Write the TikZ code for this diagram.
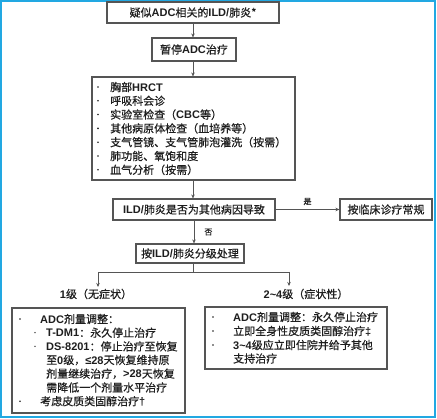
\documentclass[tikz,border=0pt]{standalone}
\usepackage{fontspec}
\setmainfont{Noto Sans CJK SC}[FakeBold=0.5]
\newfontfamily\latfont{Liberation Sans}
\newcommand\lb[1]{{\latfont\bfseries #1}}
\usetikzlibrary{arrows.meta}
\definecolor{framec}{HTML}{22A8E2}
\definecolor{boxline}{HTML}{555555}
\definecolor{txt}{HTML}{1E1E1E}
\begin{document}
\begin{tikzpicture}[x=1pt,y=-1pt,
  box/.style={draw=boxline,line width=1.1pt,inner sep=0pt,fill=white,text=txt,font=\fontsize{11}{13}\selectfont},
  txtn/.style={inner sep=0pt,anchor=west,text=txt,font=\fontsize{11}{13}\selectfont},
  lbl/.style={inner sep=0pt,text=txt,font=\fontsize{11}{13}\selectfont},
  small/.style={inner sep=0pt,text=txt,font=\fontsize{8}{9}\selectfont},
  conn/.style={draw=boxline,line width=0.9pt},
  arr/.style={conn,-{Stealth[length=4pt,width=3.5pt]}},
  dotc/.style={fill=txt}]
\useasboundingbox (0,0) rectangle (437,419);
\fill[white] (0,0) rectangle (437,419);
\draw[framec,line width=2pt] (1,1) rectangle (435,417);

% main boxes
\node[box,minimum width=172pt,minimum height=21pt] (top) at (193,12.5) {疑似\lb{ADC}相关的\lb{ILD/}肺炎*};
\node[box,minimum width=84pt,minimum height=23pt] (pause) at (194,49.5) {暂停\lb{ADC}治疗};
\node[box,minimum width=203pt,minimum height=103pt] (tests) at (193.5,128.5) {};
\node[box,minimum width=162pt,minimum height=21pt] (q) at (194,209.5) {\lb{ILD/}肺炎是否为其他病因导致};
\node[box,minimum width=92pt,minimum height=21pt] (clinic) at (386,209.5) {按临床诊疗常规};
\node[box,minimum width=108pt,minimum height=19pt] (grade) at (190,253.5) {按\lb{ILD/}肺炎分级处理};
\node[box,minimum width=173pt,minimum height=105pt] (g1box) at (98.5,360.5) {};
\node[box,minimum width=182pt,minimum height=62pt] (g2box) at (296,338) {};

% tests box content
\foreach \i in {0,...,6} {\fill[dotc] (98,{87+13.8*\i}) circle (0.9pt);}
\node[txtn] (t1) at (110,87) {胸部\lb{HRCT}};
\node[txtn] (t2) at (110,100.8) {呼吸科会诊};
\node[txtn] (t3) at (110,114.6) {实验室检查（\lb{CBC}等）};
\node[txtn] (t4) at (110,128.4) {其他病原体检查（血培养等）};
\node[txtn] (t5) at (110,142.2) {支气管镜、支气管肺泡灌洗（按需）};
\node[txtn] (t6) at (110,156) {肺功能、氧饱和度};
\node[txtn] (t7) at (110,169.8) {血气分析（按需）};

% grade labels
\node[lbl] (l1) at (96,294) {\lb{1}级（无症状）};
\node[lbl] (l2) at (306,294) {\lb{2\textasciitilde 4}级（症状性）};

% grade 1 box content
\fill[dotc] (20,319) circle (0.9pt);
\fill[dotc] (35,332.7) circle (0.7pt);
\fill[dotc] (35,346.4) circle (0.7pt);
\fill[dotc] (20,401.2) circle (0.9pt);
\node[txtn] (a1) at (40,319) {\lb{ADC}剂量调整：};
\node[txtn] (a2) at (46,332.7) {\lb{T-DM1}：永久停止治疗};
\node[txtn] (a3) at (46,346.4) {\lb{DS-8201}：停止治疗至恢复};
\node[txtn] (a4) at (46,360.1) {至\lb{0}级，\lb{≤28}天恢复维持原};
\node[txtn] (a5) at (46,373.8) {剂量继续治疗，\lb{>28}天恢复};
\node[txtn] (a6) at (46,387.5) {需降低一个剂量水平治疗};
\node[txtn] (a7) at (40,401.2) {考虑皮质类固醇治疗\lb{†}};

% grade 2-4 box content
\foreach \i in {0,1,2} {\fill[dotc] (213,{317+14*\i}) circle (0.9pt);}
\node[txtn] (b1) at (233,317) {\lb{ADC}剂量调整：永久停止治疗};
\node[txtn] (b2) at (233,331) {立即全身性皮质类固醇治疗\lb{‡}};
\node[txtn] (b3) at (233,345) {\lb{3\textasciitilde 4}级应立即住院并给予其他};
\node[txtn] (b4) at (233,358.5) {支持治疗};

% connectors
\draw[arr] (top.south) -- (top.south |- pause.north);
\draw[arr] (top.south |- pause.south) -- (top.south |- tests.north);
\draw[arr] (top.south |- tests.south) -- (top.south |- q.north);
\draw[arr] (q.east) -- (clinic.west) node[small,midway,above=4pt] (yes) {是};
\draw[arr] (q.south) -- (q.south |- grade.north) node[small,midway,right=10pt] (no) {否};
\coordinate (sp) at (193,272);
\coordinate (sl) at (98,272);
\coordinate (sr) at (289,272);
\draw[conn] (grade.south -| sp) -- (sp);
\draw[conn] (sl) -- (sr);
\draw[arr] (sl) -- (98,287);
\draw[arr] (sr) -- (289,286);
\end{tikzpicture}
\end{document}
